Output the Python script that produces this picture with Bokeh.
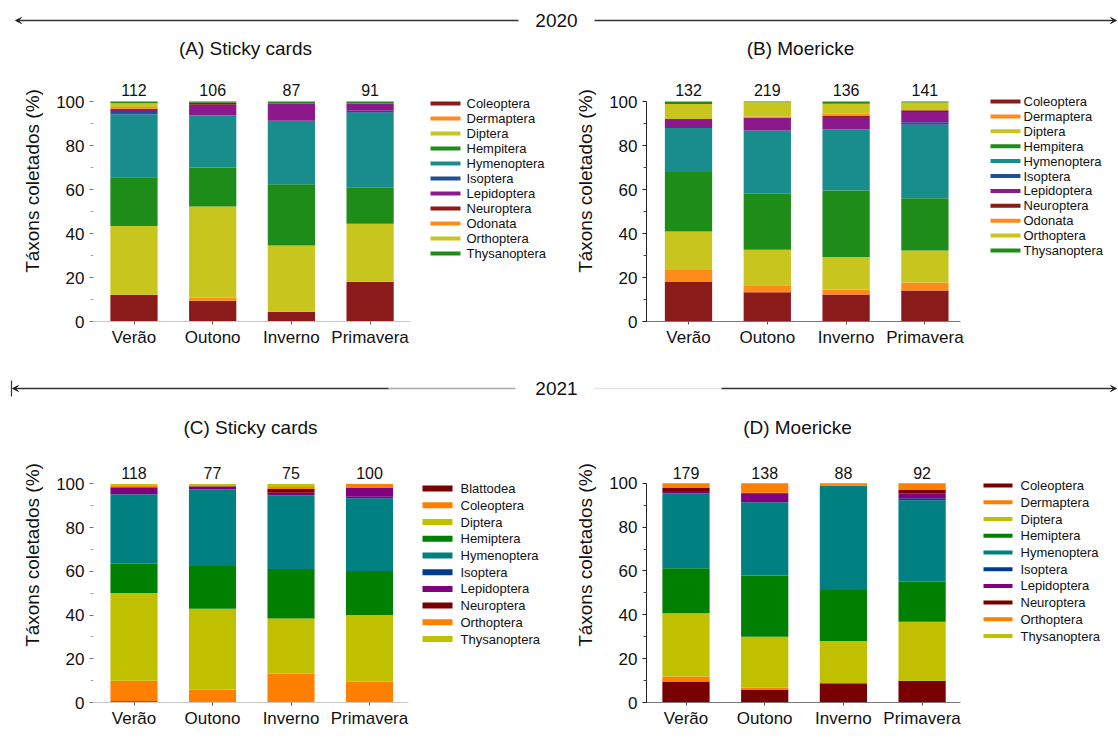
from bokeh.plotting import figure
from bokeh.models import ColumnDataSource, Range1d, FixedTicker, Arrow, VeeHead
from bokeh.layouts import column, row
from bokeh.embed import file_html
from bokeh.resources import INLINE
from bokeh.core.properties import value

FONT = "Liberation Sans"
INK = "#111111"

# ---------------- data ----------------
seasons = ["Verão", "Outono", "Inverno", "Primavera"]

taxa_2020 = ["Coleoptera", "Dermaptera", "Diptera", "Hempitera", "Hymenoptera", "Isoptera",
             "Lepidoptera", "Neuroptera", "Odonata", "Orthoptera", "Thysanoptera"]
colors_2020 = ["#8b1a1a", "#ff8c1a", "#c8c61e", "#1e8c19", "#198c8c", "#1e5096",
               "#8c198c", "#8b1a1a", "#ff8c1a", "#c8c61e", "#1e8c19"]

# (A) Sticky cards 2020 — % per taxon, seasons in order
a_values = [
    [12.2, 9.4, 4.4, 18.1],    # Coleoptera
    [0.0, 1.5, 0.0, 0.0],      # Dermaptera
    [31.2, 41.4, 30.1, 26.3],  # Diptera
    [22.2, 17.7, 27.9, 16.4],  # Hempitera
    [28.5, 23.6, 28.8, 34.1],  # Hymenoptera
    [1.1, 0.0, 0.0, 0.9],      # Isoptera
    [1.5, 4.9, 7.8, 3.3],      # Lepidoptera
    [0.0, 0.9, 0.0, 0.0],      # Neuroptera
    [0.8, 0.0, 0.0, 0.0],      # Odonata
    [1.7, 0.0, 0.0, 0.0],      # Orthoptera
    [0.8, 0.6, 1.0, 0.9],      # Thysanoptera
]
a_counts = [112, 106, 87, 91]

# (B) Moericke 2020
b_values = [
    [18.2, 13.3, 12.3, 14.1],
    [5.2, 3.2, 2.1, 3.6],
    [17.5, 16.1, 14.9, 14.6],
    [27.0, 25.5, 30.2, 23.7],
    [20.0, 28.7, 27.8, 33.4],
    [0.0, 0.0, 0.0, 1.2],
    [4.2, 5.9, 5.6, 4.6],
    [0.0, 0.0, 0.6, 0.8],
    [0.0, 0.5, 1.1, 0.0],
    [6.8, 6.5, 4.4, 3.5],
    [1.1, 0.3, 1.0, 0.5],
]
b_counts = [132, 219, 136, 141]

taxa_c = ["Blattodea", "Coleoptera", "Diptera", "Hemiptera", "Hymenoptera", "Isoptera",
          "Lepidoptera", "Neuroptera", "Orthoptera", "Thysanoptera"]
colors_c = ["#780000", "#ff8000", "#c0c000", "#008000", "#008080", "#003c8c",
            "#800080", "#780000", "#ff8000", "#c0c000"]

# (C) Sticky cards 2021
c_values = [
    [0.6, 0.0, 0.0, 0.0],
    [9.3, 6.0, 13.1, 9.6],
    [40.2, 36.9, 25.3, 30.4],
    [13.4, 19.5, 22.7, 20.2],
    [31.8, 35.1, 33.6, 33.1],
    [0.0, 0.0, 0.0, 0.8],
    [3.2, 1.4, 1.2, 4.0],
    [0.0, 0.0, 1.8, 0.0],
    [0.9, 0.0, 0.9, 1.9],
    [0.6, 1.1, 1.4, 0.0],
]
c_counts = [118, 77, 75, 100]

taxa_d = ["Coleoptera", "Dermaptera", "Diptera", "Hemiptera", "Hymenoptera", "Isoptera",
          "Lepidoptera", "Neuroptera", "Orthoptera", "Thysanoptera"]
colors_d = ["#780000", "#ff8000", "#c0c000", "#008000", "#008080", "#003c8c",
            "#800080", "#780000", "#ff8000", "#c0c000"]

# (D) Moericke 2021
d_values = [
    [9.6, 5.9, 8.8, 9.9],
    [2.3, 0.8, 0.0, 0.0],
    [28.8, 23.3, 19.2, 26.9],
    [20.5, 27.9, 23.3, 18.3],
    [34.1, 33.5, 47.6, 37.2],
    [0.0, 0.0, 0.0, 0.9],
    [1.2, 4.0, 0.0, 2.3],
    [1.4, 0.3, 0.0, 1.4],
    [2.1, 4.3, 1.1, 3.1],
    [0.0, 0.0, 0.0, 0.0],
]
d_counts = [179, 138, 88, 92]

# ---------------- layout geometry (page pixel coordinates) ----------------
PAGE_W = 1118
HALF = 559
geo_a = dict(fig_x=0, fig_y=38, fig_w=HALF, fig_h=337, frame_l=93, frame_r=557, frame_t=40, base=321,
             bar1=133.5, step=78.7, ppu=2.2, axis_r=410, title_x=245, title_y=48, count_y=89.5,
             sw_l=430, sw_r=460, sw_h=4, txt_x=466, leg_y0=103, leg_dy=15.0, dark=False)
geo_b = dict(fig_x=HALF, fig_y=38, fig_w=HALF, fig_h=337, frame_l=646, frame_r=1115, frame_t=40, base=321,
             bar1=688, step=78.8, ppu=2.2, axis_r=960, title_x=800, title_y=48, count_y=89.5,
             sw_l=990, sw_r=1020, sw_h=4, txt_x=1023, leg_y0=101, leg_dy=14.9, dark=True)
geo_c = dict(fig_x=0, fig_y=405, fig_w=HALF, fig_h=346, frame_l=93, frame_r=557, frame_t=407, base=701.7,
             bar1=133.5, step=78.5, ppu=2.184, axis_r=408, title_x=250, title_y=427, count_y=472.5,
             sw_l=422, sw_r=452, sw_h=6, txt_x=460, leg_y0=488, leg_dy=16.7, dark=False)
geo_d = dict(fig_x=HALF, fig_y=405, fig_w=HALF, fig_h=346, frame_l=646, frame_r=1115, frame_t=407, base=701.7,
             bar1=685.5, step=78.7, ppu=2.19, axis_r=960, title_x=797, title_y=427, count_y=472.5,
             sw_l=983, sw_r=1012, sw_h=4, txt_x=1020, leg_y0=485, leg_dy=16.7, dark=True)


def make_panel(taxa, colors, values, counts, title, g):
    def xs(px):
        return 1 + (px - g["bar1"]) / g["step"]

    def ys(py):
        return (g["base"] - py) / g["ppu"]

    base_int = int(round(g["base"]))
    p = figure(width=g["fig_w"], height=g["fig_h"], output_backend="svg", toolbar_location=None,
               x_range=Range1d(xs(g["frame_l"]), xs(g["frame_r"])),
               y_range=Range1d(0, ys(g["frame_t"])),
               min_border_left=g["frame_l"] - g["fig_x"],
               min_border_right=g["fig_x"] + g["fig_w"] - g["frame_r"],
               min_border_top=g["frame_t"] - g["fig_y"],
               min_border_bottom=g["fig_y"] + g["fig_h"] - base_int)
    p.outline_line_color = None
    p.grid.visible = False
    p.background_fill_color = "white"

    xpos = list(range(1, len(seasons) + 1))
    data = {"x": xpos}
    for t, v in zip(taxa, values):
        data[t] = v
    src = ColumnDataSource(data)
    p.vbar_stack(taxa, x="x", width=0.6, color=colors, source=src, line_color=None)

    # sample sizes above bars
    p.text(x=xpos, y=[ys(g["count_y"])] * len(xpos), text=[str(c) for c in counts],
           text_font=value(FONT), text_font_size="16px", text_align="center",
           text_baseline="middle", text_color=INK)
    # panel title
    p.text(x=[xs(g["title_x"])], y=[ys(g["title_y"])], text=[title],
           text_font=value(FONT), text_font_size="19px", text_align="center",
           text_baseline="middle", text_color=INK)

    # legend
    n = len(taxa)
    ly = [ys(g["leg_y0"] + i * g["leg_dy"]) for i in range(n)]
    p.rect(x=[(xs(g["sw_l"]) + xs(g["sw_r"])) / 2] * n, y=ly,
           width=xs(g["sw_r"]) - xs(g["sw_l"]), height=g["sw_h"], height_units="screen",
           fill_color=colors, line_color=None)
    p.text(x=[xs(g["txt_x"])] * n, y=ly, text=taxa, text_font=value(FONT),
           text_font_size="13px", text_baseline="middle", text_align="left", text_color=INK)

    # axes
    yax = p.yaxis[0]
    yax.ticker = FixedTicker(ticks=[0, 20, 40, 60, 80, 100], minor_ticks=[10, 30, 50, 70, 90])
    yax.bounds = (0, 100)
    yax.axis_label = "Táxons coletados (%)"
    yax.axis_label_text_font = FONT
    yax.axis_label_text_font_size = "19px"
    yax.axis_label_text_font_style = "normal"
    yax.axis_label_text_color = INK
    yax.axis_label_standoff = 10
    yax.major_label_text_font = FONT
    yax.major_label_text_font_size = "17px"
    yax.major_label_text_color = INK
    yax.major_tick_in = 0
    yax.minor_tick_in = 0
    yax.major_tick_out = 4
    yax.minor_tick_out = 3

    xax = p.xaxis[0]
    xax.ticker = FixedTicker(ticks=xpos)
    xax.major_label_overrides = {i: s for i, s in zip(xpos, seasons)}
    xax.bounds = (xs(g["frame_l"]), xs(g["axis_r"]))
    xax.major_label_text_font = FONT
    xax.major_label_text_font_size = "17px"
    xax.major_label_text_color = INK
    xax.major_label_standoff = 3
    xax.major_tick_in = 0
    xax.major_tick_out = 3
    xax.minor_tick_line_color = None

    if g["dark"]:
        yax.axis_line_color = "#222222"
        yax.major_tick_line_color = "#222222"
        yax.minor_tick_line_color = "#444444"
        xax.axis_line_color = "#777777"
        xax.major_tick_line_color = "#555555"
    else:
        yax.axis_line_color = None
        yax.major_tick_line_color = "#777777"
        yax.minor_tick_line_color = "#aaaaaa"
        xax.axis_line_color = "#c8c8c8"
        xax.major_tick_line_color = "#555555"
    return p


def make_header(y_top, y_bot, text, segments, arrows, ticks):
    h = figure(width=PAGE_W, height=y_bot - y_top, output_backend="svg", toolbar_location=None,
               x_range=Range1d(0, PAGE_W), y_range=Range1d(y_bot, y_top),
               x_axis_location=None, y_axis_location=None, min_border=0,
               min_border_left=0, min_border_right=0, min_border_top=0, min_border_bottom=0)
    h.outline_line_color = None
    h.grid.visible = False
    for (x0, x1, y, col) in segments:
        h.segment(x0=[x0], y0=[y], x1=[x1], y1=[y], line_color=col, line_width=1.3)
    for (x0, x1, y) in arrows:
        h.add_layout(Arrow(end=VeeHead(size=6, line_color="#333333", line_width=1),
                           x_start=x0, y_start=y, x_end=x1, y_end=y,
                           line_color="#333333", line_width=1.3))
    for (x, y0, y1) in ticks:
        h.segment(x0=[x], y0=[y0], x1=[x], y1=[y1], line_color="#333333", line_width=1.2)
    h.text(x=[556], y=[text[1]], text=[text[0]], text_font=value(FONT), text_font_size="19px",
           text_align="center", text_baseline="middle", text_color=INK)
    return h


head_2020 = make_header(0, 38, ("2020", 20), [],
                        [(518, 15, 20), (594, 1116, 20)], [])
head_2021 = make_header(375, 405, ("2021", 388),
                        [(388, 515, 388, "#a8a8a8"), (593, 721, 388, "#e6e6e6")],
                        [(388, 12, 388), (721, 1116, 388)], [(11, 380, 396)])

pa = make_panel(taxa_2020, colors_2020, a_values, a_counts, "(A) Sticky cards", geo_a)
pb = make_panel(taxa_2020, colors_2020, b_values, b_counts, "(B) Moericke", geo_b)
pc = make_panel(taxa_c, colors_c, c_values, c_counts, "(C) Sticky cards", geo_c)
pd = make_panel(taxa_d, colors_d, d_values, d_counts, "(D) Moericke", geo_d)

layout = column(head_2020, row(pa, pb), head_2021, row(pc, pd))
open("out.html", "w").write(file_html(layout, INLINE))
